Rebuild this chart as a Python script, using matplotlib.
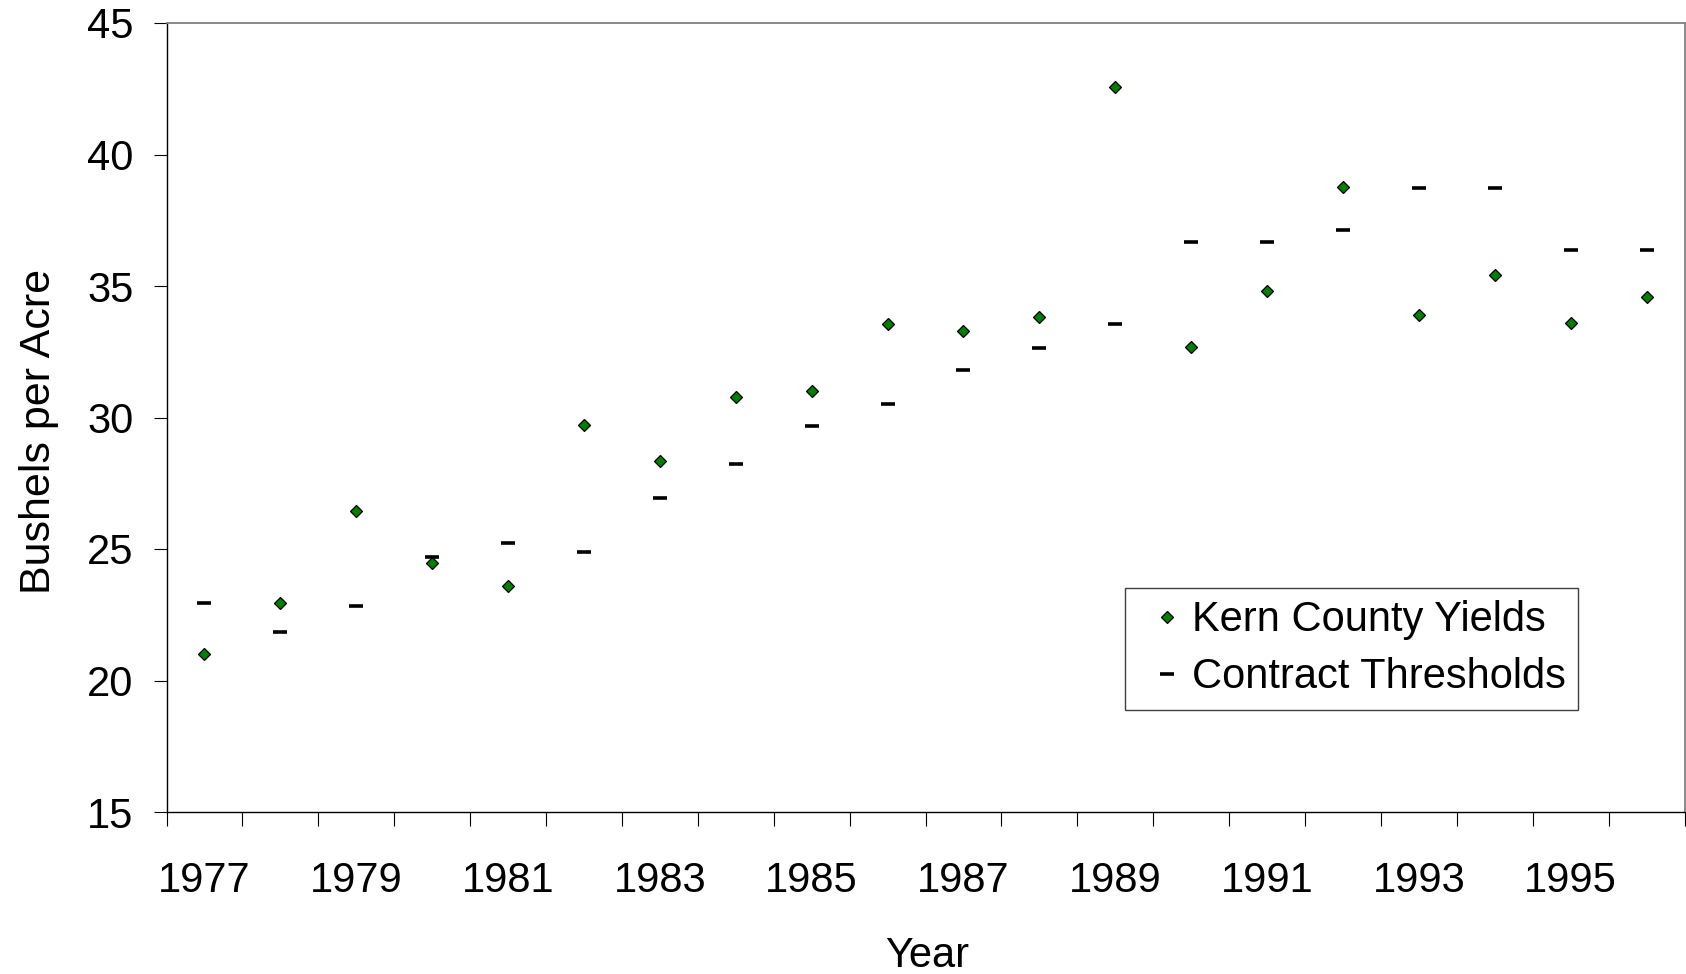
import matplotlib
matplotlib.use("Agg")
import matplotlib.pyplot as plt
from matplotlib.ticker import FixedLocator

years = [1977, 1978, 1979, 1980, 1981, 1982, 1983, 1984, 1985, 1986,
         1987, 1988, 1989, 1990, 1991, 1992, 1993, 1994, 1995, 1996]
yields = [21.0, 22.96, 26.44, 24.47, 23.58, 29.71, 28.34, 30.79, 31.01, 33.54,
          33.30, 33.83, 42.57, 32.69, 34.82, 38.77, 33.91, 35.43, 33.60, 34.59]
thresholds = [22.93, 21.86, 22.85, 24.68, 25.21, 24.90, 26.94, 28.24, 29.68, 30.52,
              31.81, 32.65, 33.56, 36.68, 36.68, 37.14, 38.74, 38.74, 36.38, 36.38]
y_ticks = [15, 20, 25, 30, 35, 40, 45]

plt.rcParams['font.family'] = ['Liberation Sans', 'DejaVu Sans']

W, H = 1686, 974
fig = plt.figure(figsize=(W / 100, H / 100), dpi=100)
L, R, T, B = 166.5, 1684.5, 23, 812
ax = fig.add_axes([L / W, 1 - B / H, (R - L) / W, (B - T) / H])

idx = list(range(len(years)))
ax.plot(idx, yields, linestyle='none', marker='D', markersize=6.6,
        markerfacecolor='#008000', markeredgecolor='black', markeredgewidth=0.9,
        label='Kern County Yields')
ax.plot(idx, thresholds, linestyle='none', marker='_', markersize=10,
        markeredgewidth=2.6, color='black', label='Contract Thresholds')

ax.set_xlim(-0.5, len(years) - 0.5)
ax.set_ylim(15, 45)
ax.set_yticks(y_ticks)
ax.set_yticklabels([str(v) for v in y_ticks])

ax.xaxis.set_major_locator(FixedLocator(idx[::2]))
ax.set_xticklabels([str(y) for y in years[::2]])
ax.xaxis.set_minor_locator(FixedLocator([i - 0.5 for i in range(len(years) + 1)]))
ax.tick_params(axis='x', which='major', length=0, pad=35, labelsize=30)
ax.tick_params(axis='x', which='minor', length=10, width=0.8, direction='out', color='black')
ax.tick_params(axis='y', which='major', length=9.7, width=0.8, direction='out',
               pad=14, labelsize=30, color='black')

for s in ['top', 'right']:
    ax.spines[s].set_color('#808080')
    ax.spines[s].set_linewidth(1.3)
for s in ['left', 'bottom']:
    ax.spines[s].set_color('black')
    ax.spines[s].set_linewidth(1.0)

fig.text(38.7 / W, 1 - 431 / H, 'Bushels per Acre', rotation=90, ha='center',
         va='center', fontsize=31)
fig.text(927 / W, 1 - 967 / H, 'Year', ha='center', va='baseline', fontsize=30)

leg = ax.legend(loc='upper left', bbox_to_anchor=((1125 - L) / (R - L), (B - 588) / (B - T)),
                borderaxespad=0, fontsize=30, numpoints=1, handlelength=1.41,
                handletextpad=-0.11, borderpad=0.3, labelspacing=0.405,
                fancybox=False, framealpha=1, edgecolor='#404040')
leg.get_frame().set_linewidth(1.0)

fig.savefig('out.png', dpi=100)
